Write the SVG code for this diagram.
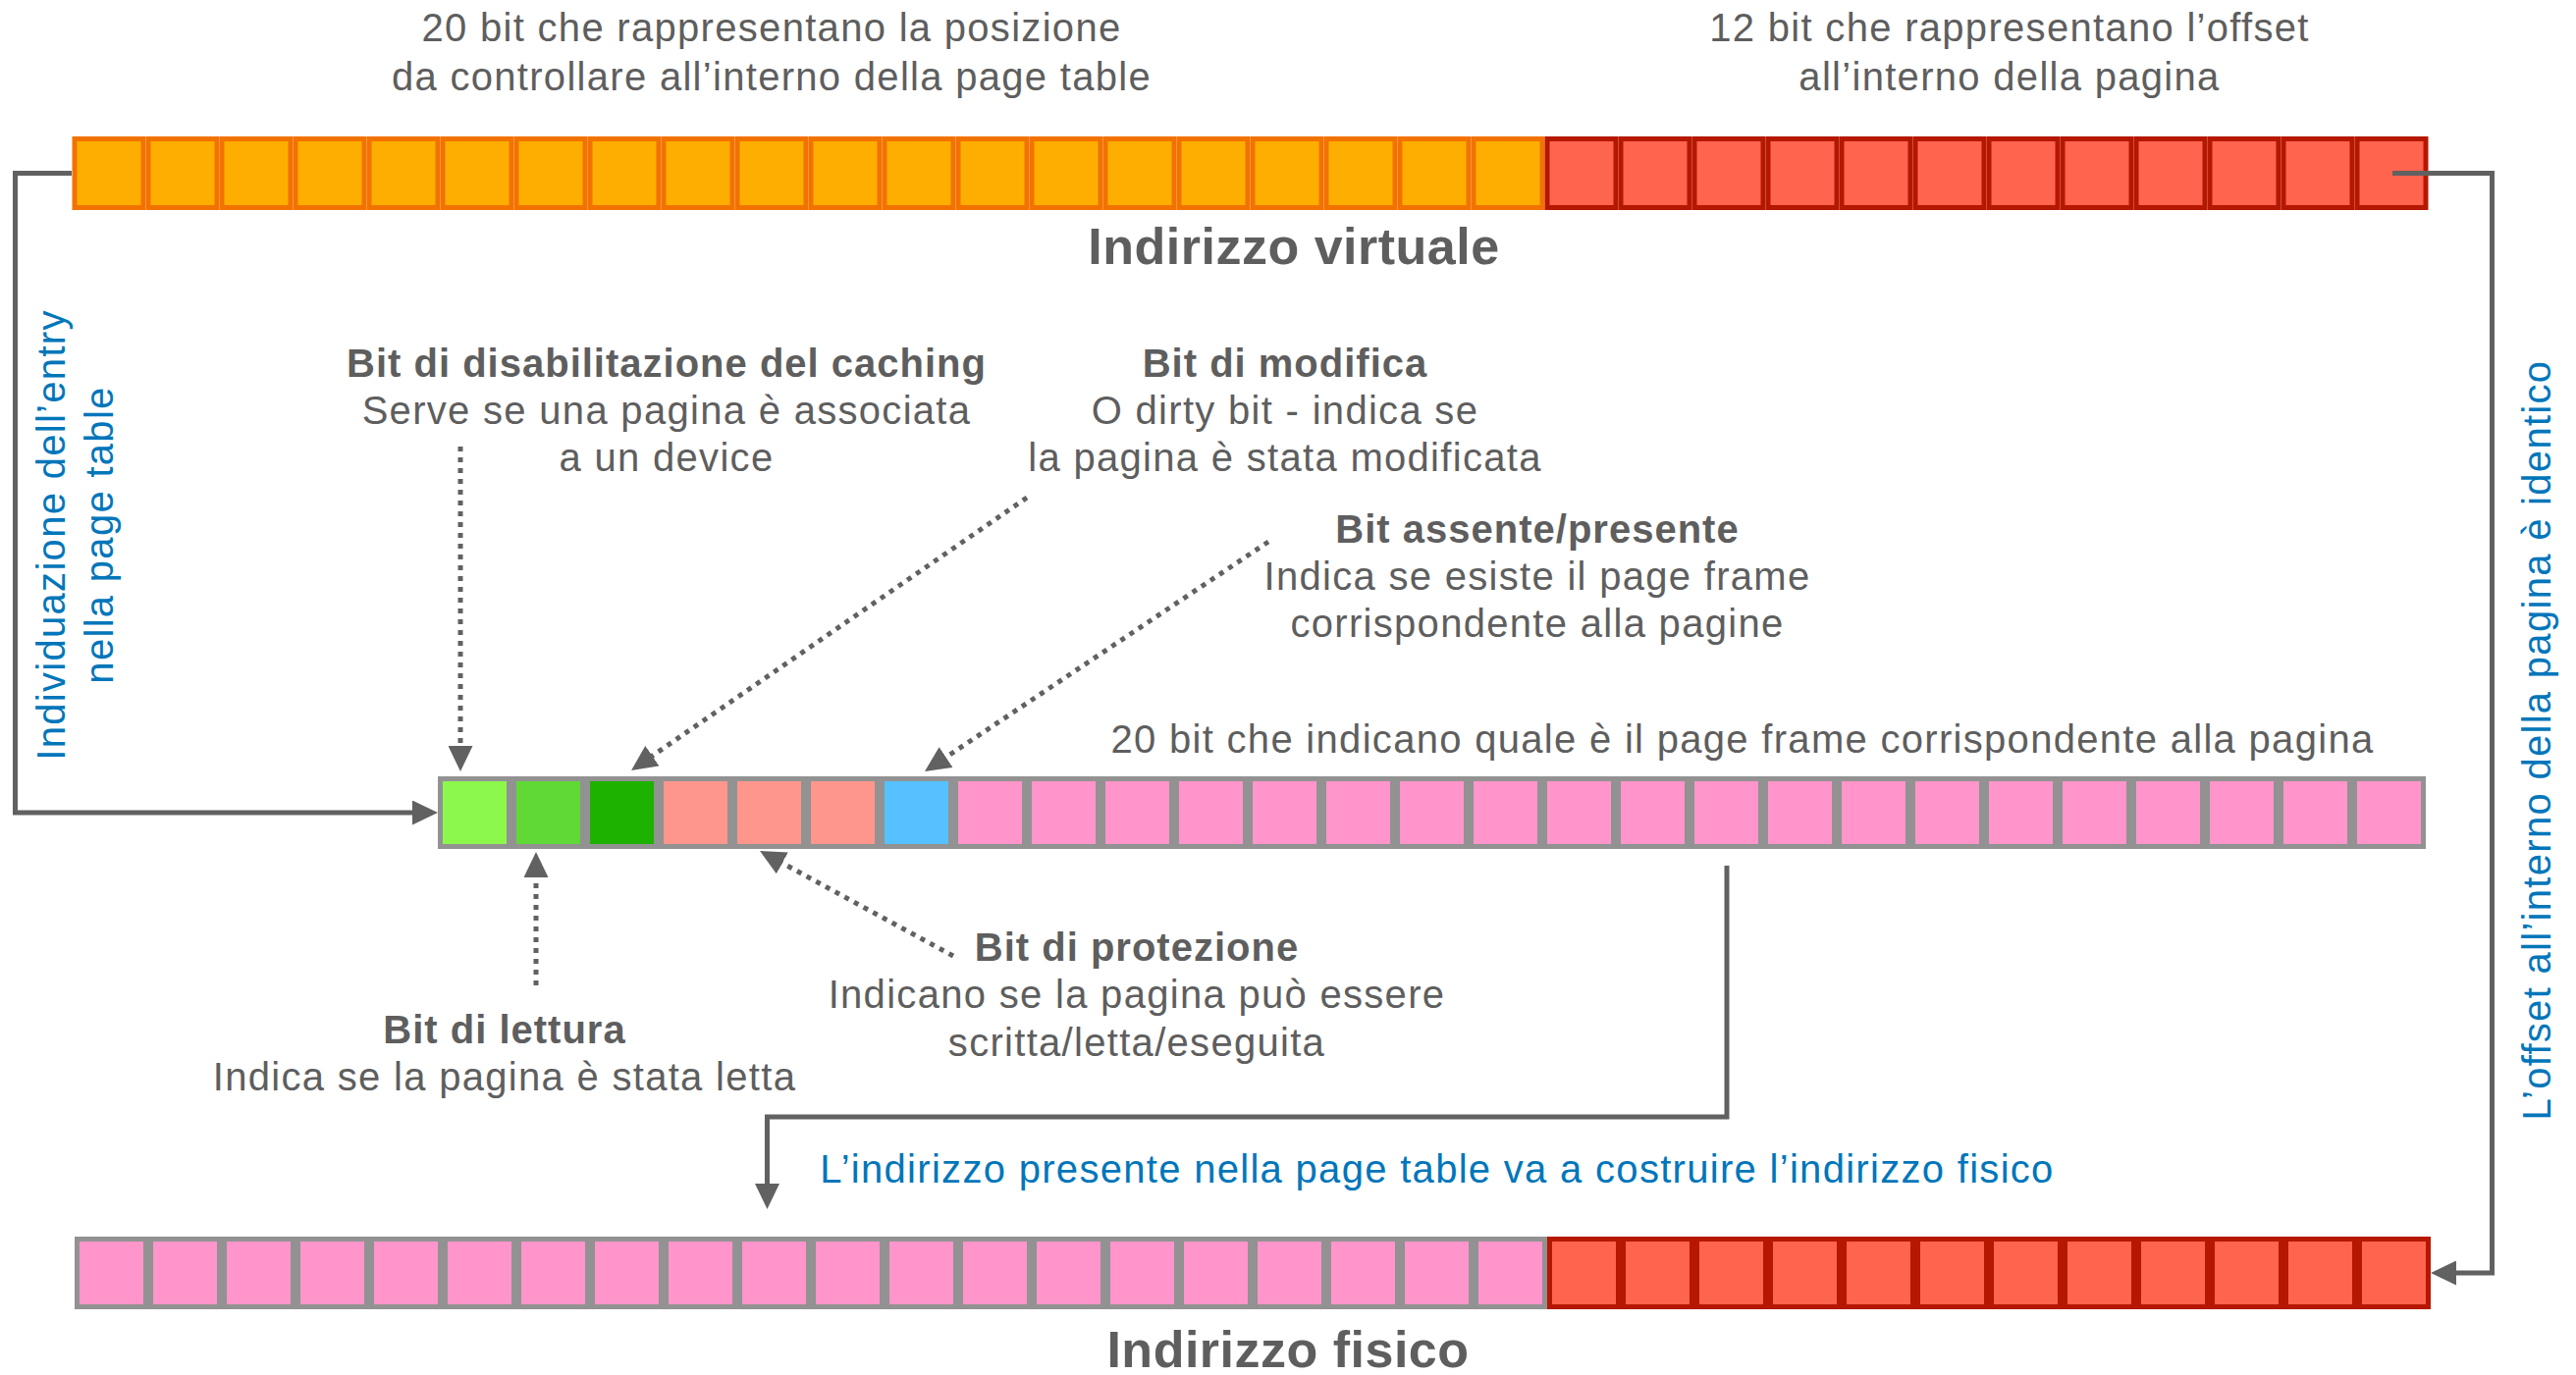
<svg xmlns="http://www.w3.org/2000/svg" width="2624" height="1401" viewBox="0 0 2624 1401">
<style>
text{font-family:"Liberation Sans",Arial,Helvetica,sans-serif;}
.t{font-size:40px;fill:#5E5E5E;letter-spacing:1.3px;text-anchor:middle;}
.b{font-size:40px;font-weight:bold;fill:#5E5E5E;letter-spacing:1px;text-anchor:middle;}
.h{font-size:52px;font-weight:bold;fill:#5E5E5E;letter-spacing:0.5px;text-anchor:middle;}
.bl{font-size:40px;fill:#0076BA;letter-spacing:1.3px;text-anchor:middle;}
.c{stroke-width:5;}
.or{fill:#FEAE00;stroke:#F27200;}
.rd{fill:#FF644E;stroke:#B51700;}
.g1{fill:#8CF84C;stroke:#929292;}
.g2{fill:#60D937;stroke:#929292;}
.g3{fill:#1DB100;stroke:#929292;}
.sa{fill:#FF968C;stroke:#929292;}
.bu{fill:#56C1FF;stroke:#929292;}
.pk{fill:#FF95CA;stroke:#929292;}
.rg{fill:#FF644E;stroke:#B51700;}
.ln{fill:none;stroke:#616161;stroke-width:5;}
.dl{fill:none;stroke:#616161;stroke-width:5;stroke-dasharray:5 6;}
</style>
<defs>
<marker id="ah" markerUnits="userSpaceOnUse" markerWidth="26" markerHeight="25" refX="6" refY="12.5" orient="auto">
<path d="M0,0 L26,12.5 L0,25 z" fill="#616161"/>
</marker>
</defs>

<g id="virtual-address">
<g class="c or">
<rect x="76" y="141.5" width="70" height="70"/><rect x="151" y="141.5" width="70" height="70"/><rect x="226" y="141.5" width="70" height="70"/><rect x="301" y="141.5" width="70" height="70"/><rect x="376" y="141.5" width="70" height="70"/><rect x="451" y="141.5" width="70" height="70"/><rect x="526" y="141.5" width="70" height="70"/><rect x="601" y="141.5" width="70" height="70"/><rect x="676" y="141.5" width="70" height="70"/><rect x="751" y="141.5" width="70" height="70"/><rect x="826" y="141.5" width="70" height="70"/><rect x="901" y="141.5" width="70" height="70"/><rect x="976" y="141.5" width="70" height="70"/><rect x="1051" y="141.5" width="70" height="70"/><rect x="1126" y="141.5" width="70" height="70"/><rect x="1201" y="141.5" width="70" height="70"/><rect x="1276" y="141.5" width="70" height="70"/><rect x="1351" y="141.5" width="70" height="70"/><rect x="1426" y="141.5" width="70" height="70"/><rect x="1501" y="141.5" width="70" height="70"/>
</g>
<g class="c rd">
<rect x="1576" y="141.5" width="70" height="70"/><rect x="1651" y="141.5" width="70" height="70"/><rect x="1726" y="141.5" width="70" height="70"/><rect x="1801" y="141.5" width="70" height="70"/><rect x="1876" y="141.5" width="70" height="70"/><rect x="1951" y="141.5" width="70" height="70"/><rect x="2026" y="141.5" width="70" height="70"/><rect x="2101" y="141.5" width="70" height="70"/><rect x="2176" y="141.5" width="70" height="70"/><rect x="2251" y="141.5" width="70" height="70"/><rect x="2326" y="141.5" width="70" height="70"/><rect x="2401" y="141.5" width="70" height="70"/>
</g>
<text class="h" x="1318" y="269">Indirizzo virtuale</text>
</g>

<g id="label-20bit-top">
<text class="t" x="786" y="42">20 bit che rappresentano la posizione</text>
<text class="t" x="786" y="92">da controllare all’interno della page table</text>
</g>
<g id="label-12bit-top">
<text class="t" x="2047" y="42">12 bit che rappresentano l’offset</text>
<text class="t" x="2047" y="92">all’interno della pagina</text>
</g>

<g id="page-table-entry">
<rect class="c g1" x="448.5" y="793.5" width="70" height="69"/>
<rect class="c g2" x="523.5" y="793.5" width="70" height="69"/>
<rect class="c g3" x="598.5" y="793.5" width="70" height="69"/>
<rect class="c sa" x="673.5" y="793.5" width="70" height="69"/>
<rect class="c sa" x="748.5" y="793.5" width="70" height="69"/>
<rect class="c sa" x="823.5" y="793.5" width="70" height="69"/>
<rect class="c bu" x="898.5" y="793.5" width="70" height="69"/>
<g class="c pk">
<rect x="973.5" y="793.5" width="70" height="69"/><rect x="1048.5" y="793.5" width="70" height="69"/><rect x="1123.5" y="793.5" width="70" height="69"/><rect x="1198.5" y="793.5" width="70" height="69"/><rect x="1273.5" y="793.5" width="70" height="69"/><rect x="1348.5" y="793.5" width="70" height="69"/><rect x="1423.5" y="793.5" width="70" height="69"/><rect x="1498.5" y="793.5" width="70" height="69"/><rect x="1573.5" y="793.5" width="70" height="69"/><rect x="1648.5" y="793.5" width="70" height="69"/><rect x="1723.5" y="793.5" width="70" height="69"/><rect x="1798.5" y="793.5" width="70" height="69"/><rect x="1873.5" y="793.5" width="70" height="69"/><rect x="1948.5" y="793.5" width="70" height="69"/><rect x="2023.5" y="793.5" width="70" height="69"/><rect x="2098.5" y="793.5" width="70" height="69"/><rect x="2173.5" y="793.5" width="70" height="69"/><rect x="2248.5" y="793.5" width="70" height="69"/><rect x="2323.5" y="793.5" width="70" height="69"/><rect x="2398.5" y="793.5" width="70" height="69"/>
</g>
<text class="t" x="1775" y="767">20 bit che indicano quale è il page frame corrispondente alla pagina</text>
</g>

<g id="physical-address">
<g class="c pk">
<rect x="78.5" y="1262.5" width="70" height="69"/><rect x="153.5" y="1262.5" width="70" height="69"/><rect x="228.5" y="1262.5" width="70" height="69"/><rect x="303.5" y="1262.5" width="70" height="69"/><rect x="378.5" y="1262.5" width="70" height="69"/><rect x="453.5" y="1262.5" width="70" height="69"/><rect x="528.5" y="1262.5" width="70" height="69"/><rect x="603.5" y="1262.5" width="70" height="69"/><rect x="678.5" y="1262.5" width="70" height="69"/><rect x="753.5" y="1262.5" width="70" height="69"/><rect x="828.5" y="1262.5" width="70" height="69"/><rect x="903.5" y="1262.5" width="70" height="69"/><rect x="978.5" y="1262.5" width="70" height="69"/><rect x="1053.5" y="1262.5" width="70" height="69"/><rect x="1128.5" y="1262.5" width="70" height="69"/><rect x="1203.5" y="1262.5" width="70" height="69"/><rect x="1278.5" y="1262.5" width="70" height="69"/><rect x="1353.5" y="1262.5" width="70" height="69"/><rect x="1428.5" y="1262.5" width="70" height="69"/><rect x="1503.5" y="1262.5" width="70" height="69"/>
</g>
<g class="c rg">
<rect x="1578.5" y="1262.5" width="70" height="69"/><rect x="1653.5" y="1262.5" width="70" height="69"/><rect x="1728.5" y="1262.5" width="70" height="69"/><rect x="1803.5" y="1262.5" width="70" height="69"/><rect x="1878.5" y="1262.5" width="70" height="69"/><rect x="1953.5" y="1262.5" width="70" height="69"/><rect x="2028.5" y="1262.5" width="70" height="69"/><rect x="2103.5" y="1262.5" width="70" height="69"/><rect x="2178.5" y="1262.5" width="70" height="69"/><rect x="2253.5" y="1262.5" width="70" height="69"/><rect x="2328.5" y="1262.5" width="70" height="69"/><rect x="2403.5" y="1262.5" width="70" height="69"/>
</g>
<text class="h" x="1312" y="1393">Indirizzo fisico</text>
</g>

<g id="label-caching">
<text class="b" x="679" y="384">Bit di disabilitazione del caching</text>
<text class="t" x="679" y="432">Serve se una pagina è associata</text>
<text class="t" x="679" y="480">a un device</text>
</g>
<g id="label-modifica">
<text class="b" x="1309" y="384">Bit di modifica</text>
<text class="t" x="1309" y="432">O dirty bit - indica se</text>
<text class="t" x="1309" y="480">la pagina è stata modificata</text>
</g>
<g id="label-presente">
<text class="b" x="1566" y="553">Bit assente/presente</text>
<text class="t" x="1566" y="601">Indica se esiste il page frame</text>
<text class="t" x="1566" y="649">corrispondente alla pagine</text>
</g>
<g id="label-protezione">
<text class="b" x="1158" y="979">Bit di protezione</text>
<text class="t" x="1158" y="1027">Indicano se la pagina può essere</text>
<text class="t" x="1158" y="1076">scritta/letta/eseguita</text>
</g>
<g id="label-lettura">
<text class="b" x="514" y="1063">Bit di lettura</text>
<text class="t" x="514" y="1111">Indica se la pagina è stata letta</text>
</g>
<g id="label-entry">
<text class="bl" transform="translate(66 545) rotate(-90)" x="0" y="0">Individuazione dell’entry</text>
<text class="bl" transform="translate(115 545) rotate(-90)" x="0" y="0">nella page table</text>
</g>
<g id="label-offset">
<text class="bl" transform="translate(2598 754) rotate(-90)" x="0" y="0">L’offset all’interno della pagina è identico</text>
</g>
<g id="label-build">
<text class="bl" x="1464" y="1205">L’indirizzo presente nella page table va a costruire l’indirizzo fisico</text>
</g>

<g id="connectors">
<path class="ln" d="M73,176.5 H15.5 V828 H426" marker-end="url(#ah)"/>
<path class="ln" d="M2437,176.5 H2538.5 V1297 H2496" marker-end="url(#ah)"/>
<path class="ln" d="M1759,882 V1138 H781.5 V1212" marker-end="url(#ah)"/>
<path class="dl" d="M469,455 V766" marker-end="url(#ah)"/>
<path class="dl" d="M1046,507 L659.5,773.6" marker-end="url(#ah)"/>
<path class="dl" d="M1292,552 L958.6,774.9" marker-end="url(#ah)"/>
<path class="dl" d="M971,974 L791.6,876.5" marker-end="url(#ah)"/>
<path class="dl" d="M546,1004 V888" marker-end="url(#ah)"/>
</g>
</svg>
